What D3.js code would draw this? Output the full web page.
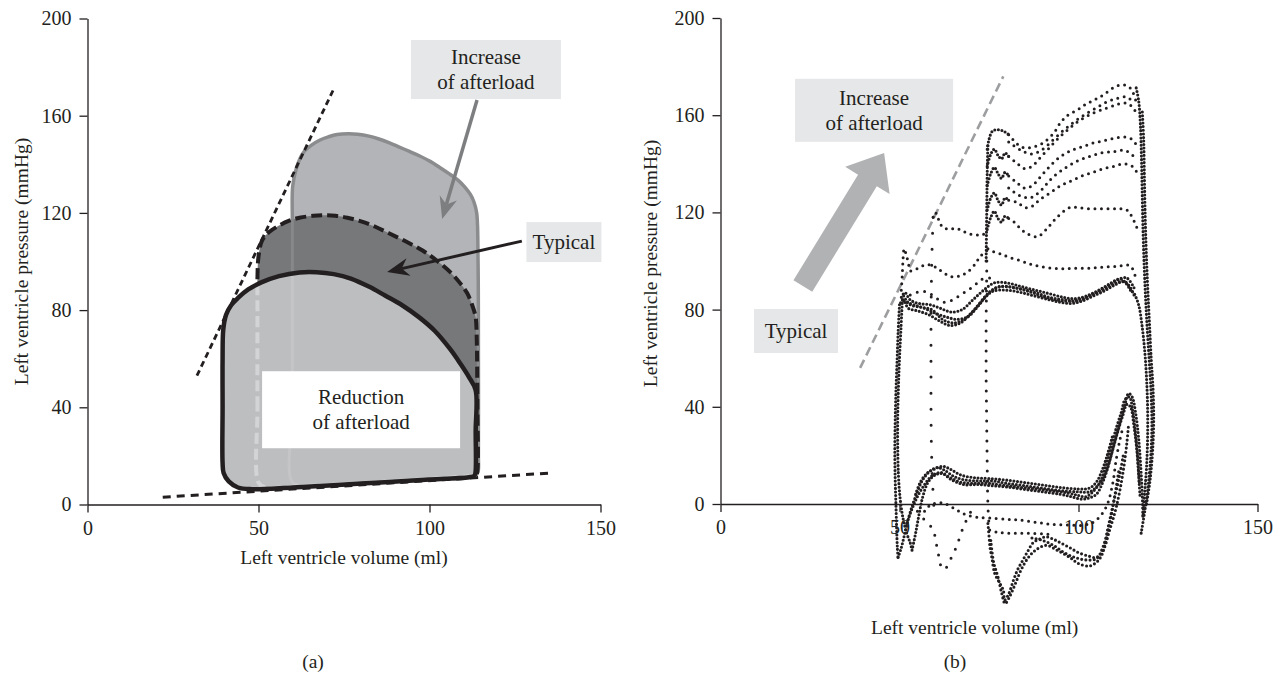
<!DOCTYPE html>
<html>
<head>
<meta charset="utf-8">
<script src="https://cdn.jsdelivr.net/npm/d3@7"></script>
<style>
  body { margin: 0; background: #fff; }
  svg text { font-family: "Liberation Serif", "DejaVu Serif", serif; fill: #231f20; }
</style>
</head>
<body>
<svg id="chart" width="1276" height="680"></svg>
<script>
// ---- shared tick values ----
const VOL_TICKS = [0, 50, 100, 150];
const PRES_TICKS = [0, 40, 80, 120, 160, 200];

// ---- panel (a): schematic loops, [volume ml, pressure mmHg] ----
const espvrA = [[32, 53], [72, 171]];
const edpvrA = [[22, 3], [136, 13]];

const increaseLoop = [[60, 9], [59.9, 40], [59.9, 80], [59.9, 115], [60, 131], [61, 138], [62, 142], [63.5, 145.5],
  [65.6, 148], [68, 150], [70.4, 151.3], [73, 152.3], [76.3, 152.6], [79, 152.4], [82.3, 151.6], [85, 150.5],
  [88.3, 148.8], [91, 147.2], [94.3, 145.2], [97, 143.5], [100.2, 141.2], [103, 138.7], [106.3, 135.6],
  [108.5, 133.3], [110.4, 130.5], [112, 127.5], [113, 124.5], [113.8, 120], [114.2, 100], [114.3, 60],
  [114.3, 20], [114.2, 13.5], [113.5, 12], [112, 11.7], [100, 10.7], [80, 9], [65, 8]];

const typicalLoop = [[50, 9], [49.7, 40], [49.7, 80], [49.7, 94], [50, 102], [51, 108.5], [53, 112], [56, 114.8],
  [59, 116.8], [62, 118], [66, 118.8], [69, 119], [72.5, 118.8], [76, 118], [80, 116.5], [84, 114.4],
  [88, 111.7], [93, 108.3], [98, 104.5], [102, 100.5], [106.3, 95.3], [109, 91], [111, 87], [112.5, 82],
  [113.5, 77], [113.8, 69], [114, 40], [114, 14], [113.6, 12], [112, 11.6], [100, 10.5], [80, 8.8], [60, 7.3],
  [52, 7]];

const reductionLoop = [[39.5, 17], [39.5, 40], [39.5, 60], [39.7, 72], [40.5, 78], [42, 82], [44, 85], [47, 88.5],
  [51, 91.5], [56, 94], [62, 95.5], [67, 95.6], [72, 94.8], [77, 93], [82.4, 89.6], [87, 86], [92, 82],
  [97, 77], [101.5, 71.5], [106, 64], [109, 58], [111.5, 52.5], [113.5, 47], [113.5, 30], [113.5, 14],
  [113.2, 12], [112, 11.3], [100, 10.3], [80, 8.6], [60, 7], [48, 6.3], [44, 7], [41.3, 9.5], [39.8, 13]];

// ---- panel (b): recorded beats, [volume ml, pressure mmHg] ----
const espvrB = [[39, 56], [79, 176]];

// baseline beats (dense band)
const baseEject1 = [[115.5, 86], [114, 90], [112.5, 91.5], [110, 90], [107, 87.5], [104, 85.5], [101, 83.5], [98, 82.5],
  [95, 83], [92, 84], [88, 85.5], [84, 87], [80, 88], [76, 87.5], [73, 83.5], [70, 78.5], [67, 74.5], [64, 73.5],
  [61, 75.5], [58, 78], [55, 79.5], [52.5, 80.5], [51, 84], [50, 82]];
const baseEject2 = [[115.5, 89], [113.5, 93], [111, 92.5], [108, 90], [105, 87.5], [102, 85.5], [99, 84.5], [96, 85],
  [92, 86.5], [88, 88], [84, 89.5], [80, 91], [76.5, 91], [73.5, 88], [70.5, 84], [67.5, 80], [64.5, 79],
  [61.5, 80.5], [58.5, 82], [55.5, 82.5], [53, 84], [51.5, 87], [50.5, 85]];
const baseEject3 = [[115, 87.5], [113, 91.5], [110.5, 91], [107.5, 88.5], [104.5, 86.5], [101, 84.5], [98, 83.5],
  [94, 84], [90, 85.5], [86, 87.5], [82, 89], [78, 89.5], [75, 87], [72, 81.5], [69, 77], [66, 76], [63, 77],
  [60, 78.5], [57, 80.5], [54, 82], [52, 83], [50.5, 84]];
const baseEject4 = [[114.5, 88], [112, 92.5], [109, 90.5], [106, 88], [103, 85.5], [100, 83.5], [96, 84], [92, 85],
  [88, 87], [84, 88.5], [80, 89.5], [77, 89], [74, 85.5], [71, 80], [68, 76], [65, 74.5], [62, 76], [59, 80],
  [56, 81], [53, 82], [51, 86]];
const baseRelax1 = [[50, 82], [49.6, 70], [49.3, 58], [49, 46], [48.8, 34], [48.7, 22], [48.8, 10], [49, 0],
  [49.2, -10], [49.4, -18], [49.6, -22]];
const baseRelax2 = [[50.8, 84], [50.4, 72], [50, 60], [49.7, 48], [49.5, 36], [49.5, 24], [49.7, 12], [50.2, 2],
  [51, -6], [52, -12], [53, -16], [53.5, -19]];
const baseFill1 = [[49.6, -22], [50.5, -18], [51.5, -12], [52.5, -6], [53.5, -1], [55, 5], [56.5, 10], [58.5, 13.5],
  [60.5, 15], [62.5, 14], [65, 11.5], [68, 10], [72, 9.5], [76, 9.5], [80, 8.5], [85, 7.5], [90, 6.5], [95, 5.5],
  [100, 5], [103, 5], [105, 7], [107, 11], [108.5, 17], [110, 25], [111.5, 33], [113, 41], [114, 45.5], [115, 44],
  [116, 37], [116.8, 27], [117.4, 15], [117.8, 4], [118, -5]];
const baseFill2 = [[53.5, -19], [54.5, -12], [55.5, -4], [56.5, 3], [58, 9], [60, 12], [62, 12.5], [64.5, 10], [68, 8],
  [72, 8], [76, 7.5], [80, 7], [85, 6], [90, 5], [95, 4], [98, 3], [101, 2], [103, 2.5], [105, 4], [106.5, 8],
  [108, 14], [109.5, 22], [111, 30], [112.5, 37], [113.5, 41], [114.5, 40], [115.5, 32], [116.3, 22], [116.8, 12],
  [117.2, 3]];
const baseFill3 = [[52, -8], [53.5, -2], [55, 3], [57, 8], [59, 11.5], [61.5, 13], [64, 11], [67, 9], [71, 8.5],
  [75, 8.5], [80, 7.5], [86, 6.5], [92, 5.5], [97, 4.5], [100, 3.5], [102, 3], [104, 5], [106, 9], [107.5, 15],
  [109, 23], [110.5, 31], [112, 38], [113, 43], [114.2, 44], [115.2, 38], [116, 28], [116.6, 18], [117, 8]];
const baseFill4 = [[54.5, 4], [56, 9.5], [58, 13], [60, 14.5], [62, 15.5], [64, 14.5], [67, 12], [71, 10.8],
  [75, 10.5], [80, 9.8], [85, 8.8], [90, 7.8], [95, 6.8], [100, 6.2], [103, 6.5], [105, 9], [106.5, 13.5],
  [108, 20], [109.5, 28]];
const rightCol1 = [[118, -5], [118.5, 5], [119, 15], [119.3, 27], [119.3, 40], [119, 52], [118.5, 63], [117.7, 74],
  [116.8, 82], [115.5, 87]];
const rightCol2 = [[117.5, -12], [118.5, -3], [119.5, 8], [120.2, 20], [120.5, 32], [120.3, 45], [119.8, 58],
  [119.2, 72], [118.7, 86], [118.3, 100], [118, 114], [117.8, 128], [117.6, 142], [117.3, 156], [116.8, 166],
  [116, 172]];
const rightCol3 = [[119, 0], [120, 10], [120.7, 22], [121, 35], [120.8, 48], [120.3, 60], [119.8, 75], [119.3, 90],
  [118.9, 105], [118.6, 120], [118.4, 135], [118.2, 150], [117.8, 162]];

// beats with rising afterload: ejection curves
const eject1 = [[80.5, 152], [83, 148], [85, 146.5], [87.5, 147], [90, 148.5], [93, 152.5], [95, 157], [97, 160],
  [99.5, 162], [102, 164.5], [104, 166], [106, 167.5], [108, 169.5], [110, 171.5], [112, 172.5], [113.8, 172],
  [115, 170], [116, 166]];
const eject1b = [[80.5, 149], [84, 145.5], [87, 144], [90, 146], [93, 150], [96, 154], [99, 157.5], [102, 160.5],
  [105, 163], [108, 165.5], [111, 167], [113.5, 167.5], [115.5, 165]];
const eject2 = [[80.5, 143], [83, 140], [85, 138], [87, 139], [89, 142], [91.5, 146], [94, 150], [97, 154],
  [100, 157.5], [104, 160.8], [108, 163], [111, 164.5], [113.4, 165], [115, 163.5], [116.5, 160]];
const eject3 = [[80.5, 135], [83, 132], [85, 130], [87, 131], [89, 134], [92, 139], [95, 143], [98, 145.5],
  [101, 147], [104, 148.5], [107, 149.5], [110, 150.5], [113, 151], [115, 150], [116.5, 147]];
const eject3b = [[80.5, 130], [83.5, 127], [86.5, 126], [89.5, 129], [92.5, 134], [96, 138], [99.5, 141],
  [103, 143], [106.5, 144.5], [110, 145], [113, 145.5], [115.5, 143]];
const eject4 = [[80.5, 125], [83, 124], [85, 122], [87, 122.5], [89, 125], [92, 128], [95, 131], [98, 133],
  [101, 135], [104, 136.5], [107, 138], [110, 139], [112.7, 140], [115, 139], [116.5, 136]];
const eject5 = [[80.5, 117.5], [82, 116], [84, 113], [86, 111], [88.5, 110], [91, 113], [94, 118], [97.6, 122],
  [100, 122], [103, 121.5], [106, 121.5], [109, 121.5], [111.5, 121.5], [113.5, 121], [115, 118], [116.5, 113]];
const eject6 = [[74.7, 105], [76, 104], [78, 103], [80.5, 101.6], [84, 100], [87, 98.5], [89.8, 97.6], [93, 97],
  [96, 96.8], [98.7, 97], [102, 97], [105, 97.3], [108, 97.6], [111, 97.8], [113.8, 98.3], [115, 97], [116, 93]];
const hook1 = [[74.5, 146], [75, 150], [76, 153.5], [77.5, 154], [79, 153.5], [80.5, 152]];
const hook2 = [[74.5, 139], [75.5, 144], [76.5, 146], [77.5, 143.5], [78.5, 142], [79.5, 144.5], [80.5, 143]];
const hook3 = [[74.5, 131], [75.5, 136], [76.5, 138.5], [77.5, 136], [78.5, 134], [79.5, 136.5], [80.5, 135]];
const hook4 = [[74.5, 121], [75.5, 126], [76.5, 128], [77.5, 125], [78.5, 123], [79.5, 126], [80.5, 125]];
const hook5 = [[74.5, 113], [75.5, 118], [76.5, 120.5], [77.5, 117.5], [78.5, 116], [79.5, 118.5], [80.5, 117.5]];
const esColumn = [[74.2, 100], [74.3, 112], [74.4, 124], [74.5, 136], [74.7, 148]];
const midEject1 = [[59.4, 118], [60, 120], [60.8, 117.5], [62, 114], [64, 113], [65.6, 113.5], [67.5, 112.5],
  [69, 111.4], [71, 110.8], [73, 110.7], [74.5, 112]];
const midEject2 = [[50.5, 88], [50.8, 95], [51, 101], [51.3, 105], [51.8, 103], [52.5, 99], [53, 96], [54.5, 96.5],
  [56.4, 98], [58, 98.5], [59.9, 97.6], [62, 95.5], [64.5, 93.5], [67, 94], [69, 95.5], [71, 98.5], [72.4, 101.6],
  [74.5, 104.5]];
const midEject3 = [[53, 86], [56, 87.5], [58, 87], [61, 84], [63, 83], [65.9, 85], [68.6, 87.5], [71, 90], [73, 92.5],
  [75.5, 93]];

// relaxation columns (fast, sparse samples)
const relaxHigh = [[74.4, 100], [74.3, 88], [74.2, 76], [74.2, 64], [74.2, 52], [74.3, 40], [74.4, 28], [74.5, 16],
  [74.6, 5], [74.8, -4], [75.1, -10]];
const relaxMid = [[59.4, 118], [59.1, 105], [58.9, 90], [58.8, 72], [58.8, 57], [58.8, 40], [58.9, 25], [59.2, 10],
  [59.6, -1]];

// filling after higher afterload
const fillA = [[57, -3], [58.5, -0.5], [61, 0.5], [63, 0], [66, -2.5], [68.7, -4.5], [72, -5.5], [75.2, -5.8],
  [80, -6.3], [83.6, -6.6], [88, -7.5], [92, -8.3], [97, -8.6], [102, -8.6], [105, -6.6], [107.8, -1], [109.5, 8],
  [110.5, 18], [111.5, 26], [112.5, 32]];
const fillB = [[75.2, -10.7], [77, -11.5], [79.8, -12], [83, -12], [86.4, -12], [90, -12.3], [92, -12.5]];
const fillC = [[55, -3], [56.5, -5.8], [58, -8], [59.4, -10.7], [60.5, -18], [61.2, -23], [61.7, -26], [62.6, -27],
  [63.5, -25], [64.6, -21.7], [65.9, -17.6], [67.7, -10], [69.6, -4], [71, -1]];
const fillD1 = [[74.7, -8], [75, -13], [75.3, -18], [75.8, -22], [76.6, -28.6], [77.8, -32], [79, -35.5],
  [79.4, -39.5], [80.5, -37], [81.8, -31.5], [83, -27], [84.5, -23], [86, -19], [87.3, -16], [89, -14.5],
  [91, -13.5], [93, -14.5], [95, -16], [97.6, -18], [100, -20], [103, -21.5], [105, -22], [106.9, -19],
  [108.7, -10.7], [110.6, -1], [112.4, 12.7], [113.5, 25], [114, 33]];
const fillD2 = [[75.5, -15], [76.3, -24], [77.5, -30], [78.6, -37], [79.5, -41], [80.8, -38], [82.3, -33], [84, -27],
  [86, -22], [88, -19], [91, -17], [94, -19], [97.6, -22], [100, -24.5], [103, -25.5], [105, -24], [106.5, -21],
  [107.8, -14], [109, -6], [110.2, 4], [111.3, 14]];
const fillD3 = [[87, -14], [90, -15], [93, -17], [96, -20], [99, -22], [102, -23], [105, -22.5], [107, -17],
  [108.5, -8], [110, 2], [111.5, 12], [112.5, 20]];

// ---- annotations ----
const labelsA = [
  { lines: ['Increase', 'of afterload'], at: [116.5, 179], w: 150, h: 59, fill: '#e6e7e8' },
  { lines: ['Typical'], at: [139.3, 108], w: 75, h: 40, fill: '#e6e7e8' },
  { lines: ['Reduction', 'of afterload'], at: [80, 39], w: 198, h: 77, fill: '#ffffff' }
];
const labelsB = [
  { lines: ['Increase', 'of afterload'], at: [42.9, 162], w: 158, h: 63, fill: '#e6e7e8' },
  { lines: ['Typical'], at: [21.1, 71.2], w: 84, h: 44, fill: '#e6e7e8' }
];
const arrowsA = [
  { from: [113.9, 166.5], to: [103.7, 117.5], color: '#7d7e80', width: 3.5 },
  { from: [127.0, 108.4], to: [87.6, 95.7], color: '#231f20', width: 3 }
];
const bigArrowB = { from: [23, 89.7], to: [45.7, 144.4] };

// ---- scales ----
const ink = '#231f20';
const SERIF = '"Liberation Serif", "DejaVu Serif", serif';
const xA = d3.scaleLinear().domain([0, 150]).range([87.5, 600.5]);
const yA = d3.scaleLinear().domain([0, 200]).range([504.5, 18.5]);
const xB = d3.scaleLinear().domain([0, 150]).range([720.5, 1257.5]);
const yB = d3.scaleLinear().domain([0, 200]).range([504, 18]);

const svg = d3.select('#chart');

function drawAxes(x, y) {
  const gx = svg.append('g').attr('transform', `translate(0,${y(0)})`)
    .call(d3.axisBottom(x).tickValues(VOL_TICKS).tickSize(8).tickPadding(8).tickSizeOuter(0));
  const gy = svg.append('g').attr('transform', `translate(${x(0)},0)`)
    .call(d3.axisLeft(y).tickValues(PRES_TICKS).tickSize(8).tickPadding(8).tickSizeOuter(0));
  [gx, gy].forEach(g => {
    g.attr('font-family', SERIF).attr('font-size', 20);
    g.selectAll('path, line').attr('stroke', ink).attr('stroke-width', 1.3);
    g.selectAll('text').attr('fill', ink);
  });
}

function drawTitles(cx, cy, xTitleY, yTitleX, tag, tagX) {
  svg.append('text').text('Left ventricle volume (ml)')
    .attr('x', cx).attr('y', xTitleY).attr('text-anchor', 'middle').attr('font-size', 19.5);
  svg.append('text').text('Left ventricle pressure (mmHg)')
    .attr('transform', `translate(${yTitleX},${cy}) rotate(-90)`)
    .attr('text-anchor', 'middle').attr('font-size', 19.5);
  svg.append('text').text(tag).attr('x', tagX).attr('y', 668)
    .attr('text-anchor', 'middle').attr('font-size', 19.5);
}

function drawLabels(labels, x, y) {
  labels.forEach(l => {
    const cx = x(l.at[0]), cy = y(l.at[1]);
    svg.append('rect').attr('x', cx - l.w / 2).attr('y', cy - l.h / 2)
      .attr('width', l.w).attr('height', l.h).attr('fill', l.fill);
    l.lines.forEach((t, i) => {
      svg.append('text').text(t).attr('x', cx)
        .attr('y', cy + (i - (l.lines.length - 1) / 2) * 25 + 7)
        .attr('text-anchor', 'middle').attr('font-size', 21);
    });
  });
}

// arrow with a notched head, sizes in pixels
function drawArrow(a, x, y) {
  const x1 = x(a.from[0]), y1 = y(a.from[1]), x2 = x(a.to[0]), y2 = y(a.to[1]);
  const ang = Math.atan2(y2 - y1, x2 - x1);
  const ux = Math.cos(ang), uy = Math.sin(ang), nx = -uy, ny = ux;
  const len = 22, half = 9, notch = 7;
  const bx = x2 - ux * len, by = y2 - uy * len;
  const mx = x2 - ux * (len - notch), my = y2 - uy * (len - notch);
  svg.append('line').attr('x1', x1).attr('y1', y1).attr('x2', mx).attr('y2', my)
    .attr('stroke', a.color).attr('stroke-width', a.width);
  svg.append('path')
    .attr('d', `M${x2},${y2}L${bx + nx * half},${by + ny * half}L${mx},${my}L${bx - nx * half},${by - ny * half}Z`)
    .attr('fill', a.color);
}

// =============== panel (a) ===============
drawAxes(xA, yA);
drawTitles(xA(75), yA(100), 564, 28, '(a)', 313);

const lineA = d3.line().x(d => xA(d[0])).y(d => yA(d[1]));
const loopA = d3.line().x(d => xA(d[0])).y(d => yA(d[1])).curve(d3.curveCatmullRomClosed.alpha(0.5));

svg.append('path').attr('d', lineA(edpvrA)).attr('stroke', ink).attr('stroke-width', 3)
  .attr('stroke-dasharray', '8 6').attr('fill', 'none');

const defs = svg.append('defs');
defs.append('clipPath').attr('id', 'redClip').append('path').attr('d', loopA(reductionLoop));
const both = defs.append('clipPath').attr('id', 'typRedClip');
both.append('path').attr('d', loopA(typicalLoop));
both.append('path').attr('d', loopA(reductionLoop));

svg.append('path').attr('d', loopA(increaseLoop)).attr('fill', '#b3b4b7')
  .attr('stroke', '#8b8c8e').attr('stroke-width', 3.5);
svg.append('path').attr('d', loopA(typicalLoop)).attr('fill', '#77787a')
  .attr('stroke', ink).attr('stroke-width', 4).attr('stroke-dasharray', '11 5');
svg.append('path').attr('d', loopA(reductionLoop)).attr('fill', '#bdbec0').attr('stroke', 'none');
// loop edges showing through the reduced loop
svg.append('g').attr('clip-path', 'url(#redClip)')
  .append('path').attr('d', loopA(typicalLoop)).attr('fill', 'none')
  .attr('stroke', '#d3d4d6').attr('stroke-width', 4).attr('stroke-dasharray', '11 5');
svg.append('g').attr('clip-path', 'url(#typRedClip)')
  .append('path').attr('d', loopA(increaseLoop)).attr('fill', 'none')
  .attr('stroke', '#ffffff').attr('stroke-opacity', 0.12).attr('stroke-width', 3);
svg.append('path').attr('d', loopA(reductionLoop)).attr('fill', 'none')
  .attr('stroke', ink).attr('stroke-width', 4.5);

svg.append('path').attr('d', lineA(espvrA)).attr('stroke', ink).attr('stroke-width', 2.8)
  .attr('stroke-dasharray', '6 4').attr('fill', 'none');

drawLabels(labelsA, xA, yA);
arrowsA.forEach(a => drawArrow(a, xA, yA));

// =============== panel (b) ===============
drawAxes(xB, yB);
drawTitles(xB(71), yB(99), 634, 657, '(b)', 955);

const lineB = d3.line().x(d => xB(d[0])).y(d => yB(d[1]));
const traceB = d3.line().x(d => xB(d[0])).y(d => yB(d[1])).curve(d3.curveCatmullRom.alpha(0.5));

svg.append('path').attr('d', lineB(espvrB)).attr('stroke', '#9d9ea0').attr('stroke-width', 2.6)
  .attr('stroke-dasharray', '9 5').attr('fill', 'none');

// big grey arrow
{
  const x1 = xB(bigArrowB.from[0]), y1 = yB(bigArrowB.from[1]);
  const x2 = xB(bigArrowB.to[0]), y2 = yB(bigArrowB.to[1]);
  const ang = Math.atan2(y2 - y1, x2 - x1);
  const ux = Math.cos(ang), uy = Math.sin(ang), nx = -uy, ny = ux;
  const shaft = 11, head = 26, hl = 32;
  const bx = x2 - ux * hl, by = y2 - uy * hl;
  const pts = [
    [x1 + nx * shaft, y1 + ny * shaft], [bx + nx * shaft, by + ny * shaft], [bx + nx * head, by + ny * head],
    [x2, y2], [bx - nx * head, by - ny * head], [bx - nx * shaft, by - ny * shaft], [x1 - nx * shaft, y1 - ny * shaft]
  ];
  svg.append('path').attr('d', 'M' + pts.join('L') + 'Z').attr('fill', '#b1b2b4');
}

drawLabels(labelsB, xB, yB);

const gDots = svg.append('g');
function dotted(traces, gap, size) {
  traces.forEach(t => {
    gDots.append('path').attr('d', traceB(t)).attr('fill', 'none')
      .attr('stroke', ink).attr('stroke-width', size).attr('stroke-linecap', 'round')
      .attr('stroke-dasharray', `0 ${gap}`);
  });
}

dotted([baseEject1, baseEject2, baseEject3, baseEject4, baseRelax1, baseRelax2, baseFill1, baseFill2, baseFill3,
  baseFill4, rightCol1, rightCol2, rightCol3, hook1, hook2, hook3, hook4, hook5, esColumn], 3.6, 3.1);
dotted([fillD1, fillD2, fillD3], 4.2, 3.1);
dotted([eject1, eject1b, eject2, eject3, eject3b, eject4, eject5, eject6, midEject1, midEject2, fillA, fillB], 6.5, 3);
dotted([midEject3], 7.5, 3);
dotted([relaxHigh, fillC], 10, 3);
dotted([relaxMid], 16, 3);
</script>
</body>
</html>
